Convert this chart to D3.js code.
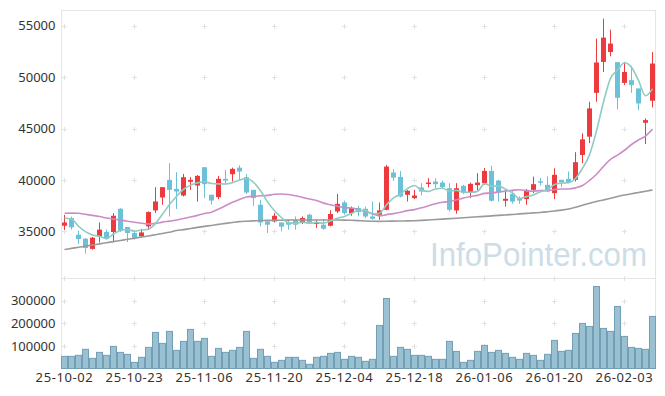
<!DOCTYPE html>
<html>
<head>
<meta charset="utf-8">
<script src="https://cdn.jsdelivr.net/npm/d3@7"></script>
<style>
  html, body { margin: 0; padding: 0; background: #fff; }
  svg { display: block; }
  text { font-family: "Noto Sans", "Liberation Sans", sans-serif; }
</style>
</head>
<body>
<div id="chart"></div>
<script>
// trading days shown on the chart
const dates = [
  "25-10-02", "25-10-10", "25-10-13", "25-10-14", "25-10-15", "25-10-16", "25-10-17", "25-10-20", "25-10-21", "25-10-22",
  "25-10-23", "25-10-24", "25-10-27", "25-10-28", "25-10-29", "25-10-30", "25-10-31", "25-11-03", "25-11-04", "25-11-05",
  "25-11-06", "25-11-07", "25-11-10", "25-11-11", "25-11-12", "25-11-13", "25-11-14", "25-11-17", "25-11-18", "25-11-19",
  "25-11-20", "25-11-21", "25-11-24", "25-11-25", "25-11-26", "25-11-27", "25-11-28", "25-12-01", "25-12-02", "25-12-03",
  "25-12-04", "25-12-05", "25-12-08", "25-12-09", "25-12-10", "25-12-11", "25-12-12", "25-12-15", "25-12-16", "25-12-17",
  "25-12-18", "25-12-19", "25-12-22", "25-12-23", "25-12-24", "25-12-26", "25-12-29", "25-12-30", "26-01-02", "26-01-05",
  "26-01-06", "26-01-07", "26-01-08", "26-01-09", "26-01-12", "26-01-13", "26-01-14", "26-01-15", "26-01-16", "26-01-19",
  "26-01-20", "26-01-21", "26-01-22", "26-01-23", "26-01-26", "26-01-27", "26-01-28", "26-01-29", "26-01-30", "26-02-02",
  "26-02-03", "26-02-04", "26-02-05", "26-02-06", "26-02-09"
];

const open = [
  35550, 36300, 34680, 34290, 33300, 34520, 34940, 34940, 37200, 35430,
  34850, 34520, 35490, 37040, 38300, 40010, 39140, 38490, 39820, 39460,
  41240, 38560, 38330, 40110, 40560, 41200, 40270, 39040, 37590, 35970,
  35970, 35870, 35870, 36130, 35810, 36620, 35720, 35650, 35550, 36940,
  37810, 36780, 37270, 37200, 36450, 36620, 37100, 40720, 40300, 38560,
  38240, 39270, 39620, 39850, 39750, 39200, 37040, 39430, 38780, 39500,
  39690, 40880, 39940, 37980, 38650, 38170, 38140, 39040, 39880, 39530,
  38720, 40010, 40110, 40010, 42430, 44210, 48470, 51480, 52440, 51450,
  49440, 49700, 48900, 45560, 47700
];
const high = [
  36600, 36450, 35070, 34360, 34460, 35870, 35170, 36780, 37250, 35430,
  34940, 35260, 36940, 39300, 39300, 41630, 40760, 40590, 40270, 40470,
  41240, 38560, 40400, 40980, 41200, 41440, 40590, 39040, 38070, 35970,
  36780, 35870, 36130, 36450, 36450, 36710, 36130, 36230, 37040, 38650,
  38000, 37420, 37490, 37400, 37910, 37810, 41460, 41040, 40880, 39040,
  39040, 39690, 40180, 40180, 39940, 39690, 39690, 39530, 39750, 40660,
  41170, 41370, 40010, 39040, 39040, 38400, 39110, 40330, 40200, 40330,
  41140, 40010, 40820, 42700, 44540, 47600, 53740, 55680, 54610, 51450,
  51480, 51090, 48900, 45990, 52440
];
const low = [
  35150, 35170, 33780, 32840, 33230, 33930, 34200, 34030, 34940, 33970,
  34200, 34420, 35170, 36780, 37590, 36450, 37170, 38390, 39040, 37900,
  38240, 37590, 38140, 39530, 39850, 40010, 38630, 37490, 35490, 34850,
  35870, 35000, 35170, 35170, 35710, 35810, 35330, 35170, 35490, 36780,
  36620, 36520, 36450, 36290, 36130, 36130, 37040, 39910, 38300, 37910,
  38140, 38490, 39270, 39200, 39200, 36940, 36720, 38620, 38240, 38970,
  39530, 37910, 37910, 37420, 37680, 37680, 37590, 38720, 39460, 38820,
  38140, 39300, 39690, 39850, 41630, 43570, 47600, 50500, 52030, 46860,
  49220, 48470, 46790, 43500, 47050
];
const close = [
  35870, 35390, 34260, 33390, 34390, 35170, 34290, 36520, 35070, 34850,
  34360, 34900, 36880, 37910, 39300, 39040, 38880, 40270, 40010, 40400,
  39590, 38000, 40110, 39940, 41080, 40820, 38780, 38240, 35870, 35650,
  36520, 35460, 35650, 35650, 36300, 35870, 35870, 35260, 36690, 37680,
  36780, 37270, 36880, 36450, 36230, 37040, 41300, 40230, 38390, 38950,
  38490, 38880, 39750, 39590, 39300, 37100, 39200, 38780, 39620, 39750,
  40880, 37980, 38780, 38170, 37900, 38000, 39040, 39590, 39750, 38880,
  40500, 39790, 39790, 41730, 43950, 46960, 51420, 53840, 53260, 47990,
  50500, 49220, 47440, 45820, 51320
];
const volume = [
  53700, 53700, 58100, 84600, 44900, 71300, 58100, 97800, 71300, 62500,
  27200, 49300, 93400, 159600, 111000, 164000, 80200, 119900, 172800, 119900,
  133100, 53700, 89000, 71300, 80200, 93400, 164000, 44900, 84600, 53700,
  27200, 36000, 49300, 49300, 36000, 18400, 49300, 53700, 66900, 71300,
  40500, 53700, 49300, 31600, 40500, 190400, 309500, 53700, 93400, 84600,
  58100, 58100, 53700, 40500, 40500, 119900, 75700, 27200, 36000, 75700,
  102200, 71300, 80200, 66900, 49300, 40500, 66900, 58100, 36000, 62500,
  124300, 75700, 80200, 155100, 199300, 186000, 362500, 177200, 164000, 274200,
  141900, 93400, 89000, 84600, 230100
];

// moving averages as drawn (5, 20 and 60 days)
const ma5 = [
  36280, 36210, 35500, 34980, 34660, 34520, 34300, 34750, 35090, 35180,
  35020, 35140, 35210, 35780, 36670, 37610, 38400, 39080, 39500, 39720,
  39830, 39660, 39620, 39610, 39740, 39990, 40140, 39770, 38960, 37870,
  37010, 36350, 35830, 35790, 35920, 35790, 35870, 35790, 36000, 36280,
  36460, 36740, 37060, 37010, 36720, 36770, 37580, 38250, 38640, 39180,
  39470, 38990, 38890, 39130, 39200, 38920, 38990, 38790, 38800, 38890,
  39650, 39400, 39400, 39110, 38740, 38170, 38380, 38540, 38860, 39050,
  39550, 39700, 39740, 40140, 41150, 42440, 44770, 47580, 49880, 50690,
  51400, 50960, 49680, 48190, 48860
];
const ma20 = [
  36760, 36780, 36760, 36660, 36560, 36450, 36300, 36200, 36100, 35990,
  35890, 35800, 35720, 35780, 35900, 36000, 36110, 36250, 36400, 36560,
  36740, 36870, 37170, 37490, 37830, 38110, 38340, 38420, 38460, 38500,
  38610, 38640, 38580, 38460, 38310, 38150, 38000, 37750, 37590, 37450,
  37310, 37270, 37110, 36940, 36700, 36510, 36630, 36730, 36860, 37020,
  37120, 37290, 37500, 37690, 37840, 37910, 38070, 38250, 38400, 38500,
  38700, 38740, 38830, 38920, 39000, 39050, 38940, 38910, 38970, 38970,
  39070, 39120, 39120, 39230, 39460, 39950, 40560, 41320, 42000, 42410,
  42890, 43450, 43890, 44270, 44940
];
const ma60 = [
  33240, 33350, 33460, 33570, 33680, 33790, 33900, 34010, 34120, 34230,
  34340, 34450, 34560, 34680, 34800, 34920, 35080, 35170, 35280, 35390,
  35490, 35580, 35680, 35780, 35870, 35950, 35990, 36020, 36050, 36070,
  36080, 36090, 36100, 36110, 36110, 36110, 36110, 36110, 36110, 36110,
  36100, 36080, 36050, 36010, 35990, 35980, 35990, 36000, 36010, 36020,
  36040, 36070, 36110, 36150, 36190, 36240, 36280, 36330, 36370, 36420,
  36460, 36510, 36560, 36600, 36650, 36700, 36750, 36800, 36840, 36910,
  36990, 37070, 37180, 37350, 37540, 37730, 37910, 38060, 38220, 38400,
  38540, 38660, 38780, 38900, 39030
];

const xTicks = ["25-10-02", "25-10-23", "25-11-06", "25-11-20", "25-12-04", "25-12-18", "26-01-06", "26-01-20", "26-02-03"];
const priceTicks = [35000, 40000, 45000, 50000, 55000];
const volumeTicks = [100000, 200000, 300000];

// ------------------------ layout ------------------------
const W = 665, H = 396;
const LEFT = 61.5, RIGHT = 655.5;
const P_TOP = 10.5, P_BOTTOM = 278.5;
const V_BOTTOM = 368.5;

const UP = "#ec3a3e", DOWN = "#6cc0d8";

const svg = d3.select("#chart").append("svg")
  .attr("width", W)
  .attr("height", H);

const x = d3.scaleBand().domain(dates).range([61, 656]).padding(0);
const bw = x.bandwidth();
const cx = (d) => x(d) + bw / 2;

const y = d3.scaleLinear().domain([30470, 56525]).range([278, 10]);
const yv = d3.scaleLinear().domain([0, 400000]).range([368.5, 278]);

// watermark
svg.append("text")
  .attr("x", 430)
  .attr("y", 266)
  .attr("textLength", 217)
  .attr("lengthAdjust", "spacingAndGlyphs")
  .style("font-family", "'Liberation Sans', Arial, sans-serif")
  .style("font-size", "33px")
  .style("fill", "#cddde7")
  .text("InfoPointer.com");

// frame of both panels
const frame = svg.append("g").attr("stroke", "#e5e5e5").attr("fill", "none");
frame.append("rect").attr("x", LEFT).attr("y", P_TOP).attr("width", RIGHT - LEFT).attr("height", P_BOTTOM - P_TOP);
frame.append("rect").attr("x", LEFT).attr("y", P_BOTTOM).attr("width", RIGHT - LEFT).attr("height", V_BOTTOM - P_BOTTOM);

// little "+" grid marks
const plus = (gx, gy) => `M${gx - 2.5},${gy}H${gx + 2.5}M${gx},${gy - 2.5}V${gy + 2.5}`;
const marks = [];
xTicks.forEach((d) => {
  const gx = Math.round(cx(d)) - 0.5;
  priceTicks.forEach((t) => marks.push(plus(gx, Math.round(y(t)) + 0.5)));
  volumeTicks.forEach((t) => marks.push(plus(gx, Math.round(yv(t)) + 0.5)));
  marks.push(plus(gx, P_BOTTOM));
});
svg.append("path")
  .attr("d", marks.join(""))
  .attr("stroke", "#e2e2e2")
  .attr("fill", "none");

// axes
const yAxis = svg.append("g")
  .attr("transform", `translate(${LEFT},0)`)
  .call(d3.axisLeft(y).tickValues(priceTicks).tickSize(0).tickPadding(6).tickFormat(d3.format("d")));
const vAxis = svg.append("g")
  .attr("transform", `translate(${LEFT},0)`)
  .call(d3.axisLeft(yv).tickValues(volumeTicks).tickSize(0).tickPadding(6).tickFormat(d3.format("d")));
const xAxis = svg.append("g")
  .attr("transform", `translate(0,${V_BOTTOM})`)
  .call(d3.axisBottom(x).tickValues(xTicks).tickSize(0).tickPadding(4));

[yAxis, vAxis, xAxis].forEach((g) => {
  g.select(".domain").remove();
  g.selectAll("text")
    .style("font-family", "'Noto Sans', sans-serif")
    .style("font-size", "13px")
    .attr("fill", "#333");
});
xAxis.selectAll("text").style("letter-spacing", "0.6px");

// volume bars
svg.append("g")
  .selectAll("rect")
  .data(dates)
  .join("rect")
  .attr("x", (d) => x(d) + 0.5)
  .attr("y", (d, i) => yv(volume[i]))
  .attr("width", bw - 1)
  .attr("height", (d, i) => yv(0) - yv(volume[i]))
  .attr("fill", "#9ac1d1")
  .attr("stroke", "#729fb6")
  .attr("stroke-width", 1);

// candles
const candles = svg.append("g")
  .selectAll("g")
  .data(dates)
  .join("g")
  .attr("fill", (d, i) => (close[i] >= open[i] ? UP : DOWN))
  .attr("stroke", (d, i) => (close[i] >= open[i] ? UP : DOWN));

candles.append("line")
  .attr("x1", (d) => Math.floor(cx(d)) + 0.5)
  .attr("x2", (d) => Math.floor(cx(d)) + 0.5)
  .attr("y1", (d, i) => y(high[i]))
  .attr("y2", (d, i) => y(low[i]))
  .attr("stroke-width", 1);

candles.append("rect")
  .attr("x", (d) => Math.floor(cx(d)) - 2)
  .attr("width", 5)
  .attr("y", (d, i) => y(Math.max(open[i], close[i])))
  .attr("height", (d, i) => Math.max(1.5, Math.abs(y(open[i]) - y(close[i]))))
  .attr("stroke", "none");

// moving average lines
const maLine = (values) =>
  d3.line()
    .x((d, i) => cx(dates[i]))
    .y((d) => y(d))
    .curve(d3.curveMonotoneX)(values);

[
  [ma60, "#9a9a9a"],
  [ma20, "#cc8dc6"],
  [ma5, "#8fcbc2"],
].forEach(([values, color]) => {
  svg.append("path")
    .attr("d", maLine(values))
    .attr("fill", "none")
    .attr("stroke", color)
    .attr("stroke-width", 1.6);
});
</script>
</body>
</html>
